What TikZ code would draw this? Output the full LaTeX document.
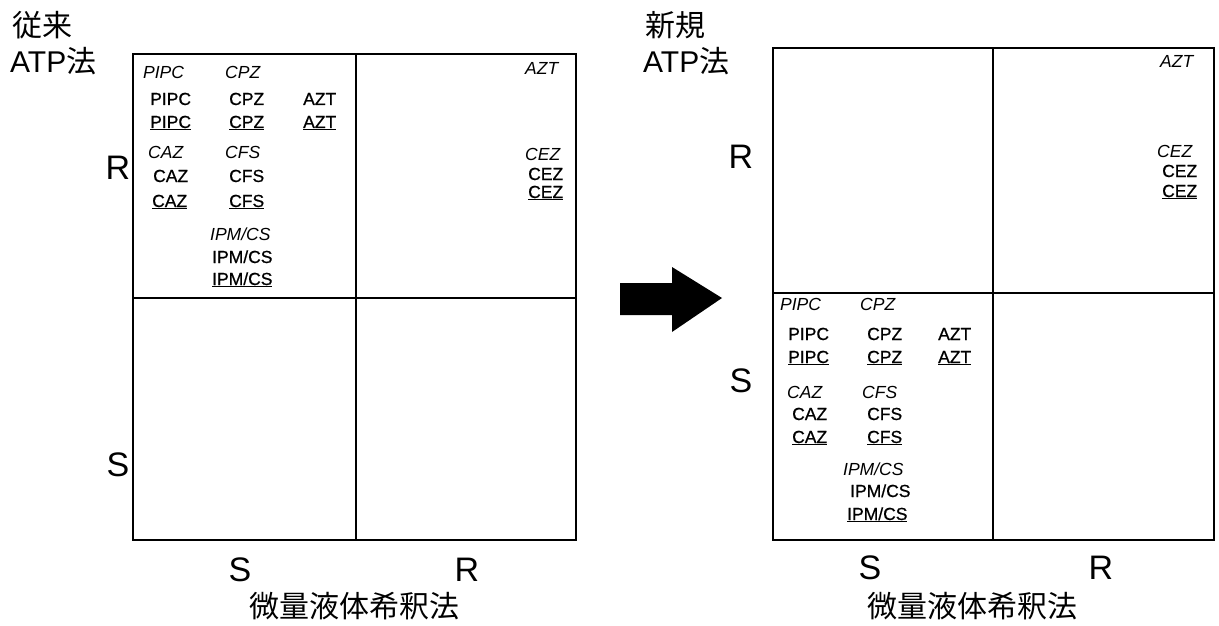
\documentclass[tikz,border=0pt]{standalone}
\usepackage{fontspec}
\setmainfont{Liberation Sans}
\setsansfont{Liberation Sans}
\newfontfamily\cjk{Noto Sans CJK JP}
\newfontfamily\semib[FakeBold=0.8]{Liberation Sans}
\begin{document}
\begin{tikzpicture}[x=1pt,y=-1pt,
  lbl/.style={anchor=base west,inner sep=0pt,font=\semib\fontsize{17.5}{18}\selectfont},
  itl/.style={anchor=base west,inner sep=0pt,font=\fontsize{17.5}{18}\selectfont\itshape},
  big/.style={anchor=center,inner sep=0pt,font=\fontsize{34}{36}\selectfont},
  ttl/.style={anchor=west,inner sep=0pt,font=\fontsize{30}{32}\selectfont},
  boxline/.style={line width=1.6pt,black}]
\useasboundingbox (0,0) rectangle (1219,626);
% ---------- left box ----------
\draw[boxline] (133,54) rectangle (576,540);
\draw[boxline] (356,54) -- (356,540);
\draw[boxline] (133,298) -- (576,298);
\node[ttl] (l1) at (12,25) {\cjk 従来};
\node[ttl] (l2) at (10,61) {ATP\cjk 法};
\node[big] (lR) at (118,168) {R};
\node[big] (lS) at (118,465) {S};
\node[big] (lbS) at (240,570) {S};
\node[big] (lbR) at (467,570) {R};
\node[anchor=center,inner sep=0pt,font=\cjk\fontsize{30}{32}\selectfont] (lx) at (354,606) {微量液体希釈法};
% left box contents
\node[itl] (a1) at (143,78) {PIPC};
\node[itl] (a2) at (225,78) {CPZ};
\node[lbl] (a3) at (150,105) {PIPC};
\node[lbl] (a4) at (229,105) {CPZ};
\node[lbl] (a5) at (303,105) {AZT};
\node[lbl] (a6) at (150,128) {\underline{PIPC}};
\node[lbl] (a7) at (229,128) {\underline{CPZ}};
\node[lbl] (a8) at (303,128) {\underline{AZT}};
\node[itl] (a9) at (148,158) {CAZ};
\node[itl] (a10) at (225,158) {CFS};
\node[lbl] (a11) at (153,182) {CAZ};
\node[lbl] (a12) at (229,182) {CFS};
\node[lbl] (a13) at (152,207) {\underline{CAZ}};
\node[lbl] (a14) at (229,207) {\underline{CFS}};
\node[itl] (a15) at (210,240) {IPM/CS};
\node[lbl] (a16) at (212,263) {IPM/CS};
\node[lbl] (a17) at (212,285) {\underline{IPM/CS}};
\node[itl] (a18) at (525,75) {AZT};
\node[itl] (a19) at (525,160) {CEZ};
\node[lbl] (a20) at (528,180) {CEZ};
\node[lbl] (a21) at (528,198) {\underline{CEZ}};
% ---------- arrow ----------
\fill[black] (620,283) -- (672,283) -- (672,267) -- (722,298) -- (672,332) -- (672,315) -- (620,315) -- cycle;
% ---------- right box ----------
\draw[boxline] (773,48) rectangle (1214,540);
\draw[boxline] (993,48) -- (993,540);
\draw[boxline] (773,293) -- (1214,293);
\node[ttl] (r1) at (645,25) {\cjk 新規};
\node[ttl] (r2) at (643,61) {ATP\cjk 法};
\node[big] (rR) at (741,157) {R};
\node[big] (rS) at (741,381) {S};
\node[big] (rbS) at (870,568) {S};
\node[big] (rbR) at (1101,568) {R};
\node[anchor=center,inner sep=0pt,font=\cjk\fontsize{30}{32}\selectfont] (rx) at (972,606) {微量液体希釈法};
% right box contents
\node[itl] (b1) at (780,310) {PIPC};
\node[itl] (b2) at (860,310) {CPZ};
\node[lbl] (b3) at (788,340) {PIPC};
\node[lbl] (b4) at (867,340) {CPZ};
\node[lbl] (b5) at (938,340) {AZT};
\node[lbl] (b6) at (788,363) {\underline{PIPC}};
\node[lbl] (b7) at (867,363) {\underline{CPZ}};
\node[lbl] (b8) at (938,363) {\underline{AZT}};
\node[itl] (b9) at (787,398) {CAZ};
\node[itl] (b10) at (862,398) {CFS};
\node[lbl] (b11) at (792,420) {CAZ};
\node[lbl] (b12) at (867,420) {CFS};
\node[lbl] (b13) at (792,443) {\underline{CAZ}};
\node[lbl] (b14) at (867,443) {\underline{CFS}};
\node[itl] (b15) at (843,475) {IPM/CS};
\node[lbl] (b16) at (850,497) {IPM/CS};
\node[lbl] (b17) at (847,520) {\underline{IPM/CS}};
\node[itl] (b18) at (1160,68) {AZT};
\node[itl] (b19) at (1157,157) {CEZ};
\node[lbl] (b20) at (1162,177) {CEZ};
\node[lbl] (b21) at (1162,197) {\underline{CEZ}};
\end{tikzpicture}
\end{document}
